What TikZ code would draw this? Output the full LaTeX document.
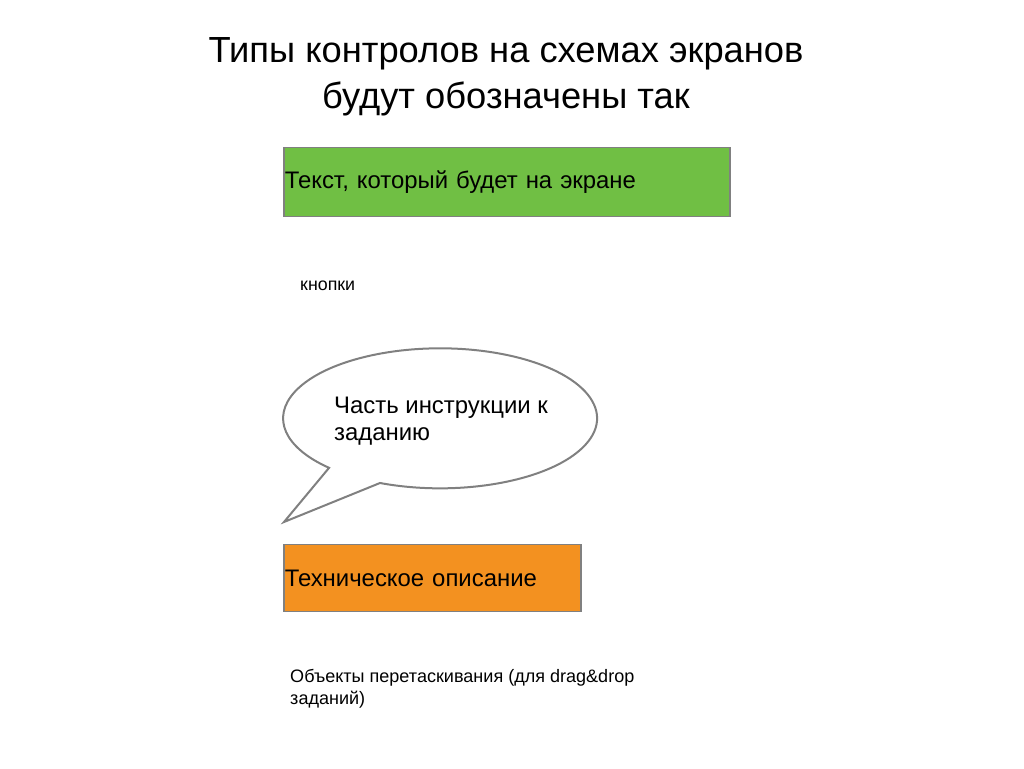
\documentclass[tikz,border=0pt]{standalone}
\usepackage{fontspec}
\setmainfont{Liberation Sans}
\usepackage{xcolor}
\usetikzlibrary{positioning}
\definecolor{scrgreen}{RGB}{112,191,68}
\definecolor{techorange}{RGB}{243,145,32}
\definecolor{edgegray}{RGB}{128,128,128}
\tikzset{
    box/.style = {draw=edgegray, line width=0.45mm, anchor=north west, inner xsep=0.3mm, inner ysep=0pt, align=left, font=\fontsize{20.4}{24}\selectfont},
    green node/.style = {box, fill=scrgreen, minimum width=133.8mm, text width=133.2mm, minimum height=20.7mm},
    orange node/.style = {box, fill=techorange, minimum width=89.1mm, text width=88.5mm, minimum height=20.1mm},
    note/.style = {anchor=base west, inner sep=0pt, align=left}
}
\begin{document}
\begin{tikzpicture}[x=0.3mm, y=0.3mm]
    \useasboundingbox (0,0) rectangle (1024,768);
    \node(title)[anchor=base, align=center, inner sep=0pt, font=\fontsize{31}{40}\selectfont] at (506,659) {Типы контролов на схемах экранов\\будут обозначены так};
    \node(screen)[green node] at (283,621) {Текст, который будет на экране};
    \node(buttons)[note, font=\fontsize{15.2}{18}\selectfont] at (300,477) {кнопки};
    % speech bubble
    \draw[edgegray, line width=0.6mm, fill=white] (380,285) arc[start angle=247.5, end angle=585, x radius=157, y radius=70] -- (284,246) -- cycle;
    \node(hint)[note, font=\fontsize{20.4}{23.8}\selectfont] at (334,327) {Часть инструкции к\\заданию};
    \node(tech)[orange node] at (283,224) {Техническое описание};
    \node(drag)[note, font=\fontsize{15.4}{18.7}\selectfont] at (290,64) {Объекты перетаскивания (для drag\&drop\\заданий)};
\end{tikzpicture}
\end{document}
